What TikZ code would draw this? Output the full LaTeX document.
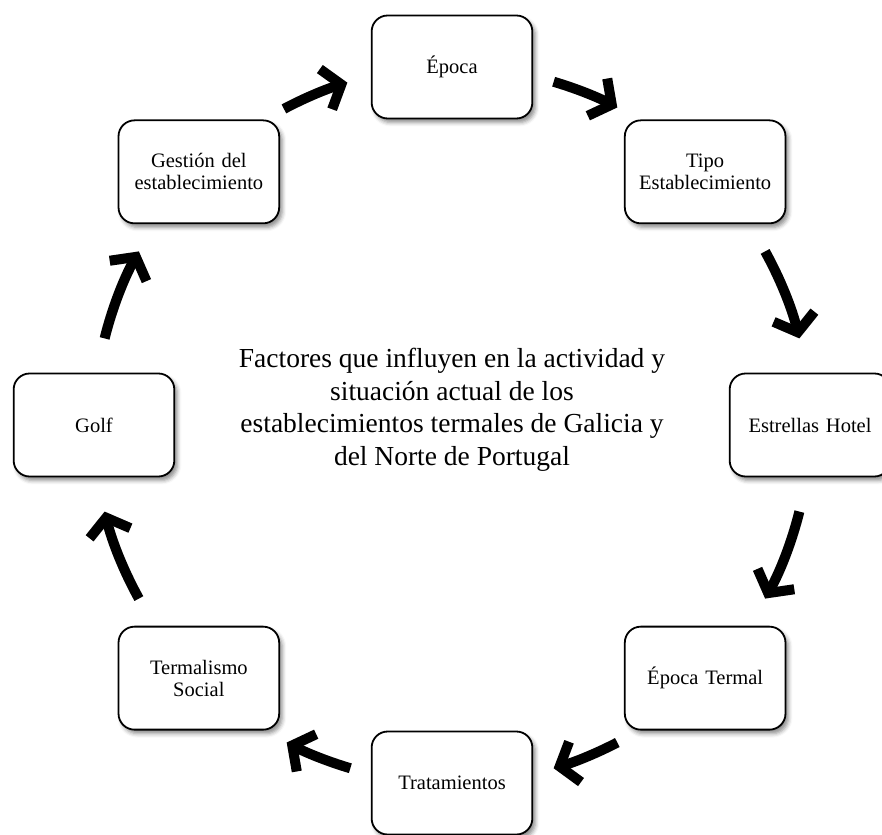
\documentclass[tikz,border=0pt]{standalone}
\usepackage{fontspec}
\setmainfont{Liberation Serif}
\usetikzlibrary{arrows.meta,shadows.blur}
\begin{document}
\begin{tikzpicture}[x=1pt,y=1pt,
  factor/.style={draw=black, line width=1.8pt, fill=white, rounded corners=16pt,
    minimum width=160pt, minimum height=103pt, text width=154pt, align=center,
    font=\fontsize{20.5}{22}\selectfont,
    blur shadow={shadow xshift=3pt, shadow yshift=-4pt, shadow blur radius=4pt, shadow opacity=45}},
  cyclearrow/.style={line width=10pt, -{Straight Barb[length=16pt,width=42pt]}},
  arrowshade/.style={cyclearrow, draw=black!30, opacity=0.45}
]
\useasboundingbox (-452,-409) rectangle (430,425);

% arrows around the cycle, drawn as arcs on the ring of boxes
\foreach \a/\b [count=\i] in {73.5/62.5, 29/14, -14/-29, -62.5/-73.5,
                             -106.5/-117.5, -151/-166, 166/151, 118/107} {
  \coordinate (t\i) at (\a:358);
  \begin{scope}[shift={(3,-4)}]
    \draw[arrowshade] (t\i) arc[start angle=\a, end angle=\b, radius=358];
  \end{scope}
  \draw[cyclearrow] (t\i) arc[start angle=\a, end angle=\b, radius=358];
}

% the factors
\node[factor] (epoca)   at (90:358)   {Época};
\node[factor] (tipo)    at (45:358)   {Tipo\\Establecimiento};
\node[factor] (estr)    at (0:358)    {Estrellas Hotel};
\node[factor] (termal)  at (-45:358)  {Época Termal};
\node[factor] (trat)    at (-90:358)  {Tratamientos};
\node[factor] (social)  at (-135:358) {Termalismo\\Social};
\node[factor] (golf)    at (180:358)  {Golf};
\node[factor] (gestion) at (135:358)  {Gestión del\\establecimiento};

% central theme
\node[font=\fontsize{27.5}{32.5}\selectfont, align=center] (tema) at (0,15)
  {Factores que influyen en la actividad y\\
   situación actual de los\\
   establecimientos termales de Galicia y\\
   del Norte de Portugal};
\end{tikzpicture}
\end{document}
